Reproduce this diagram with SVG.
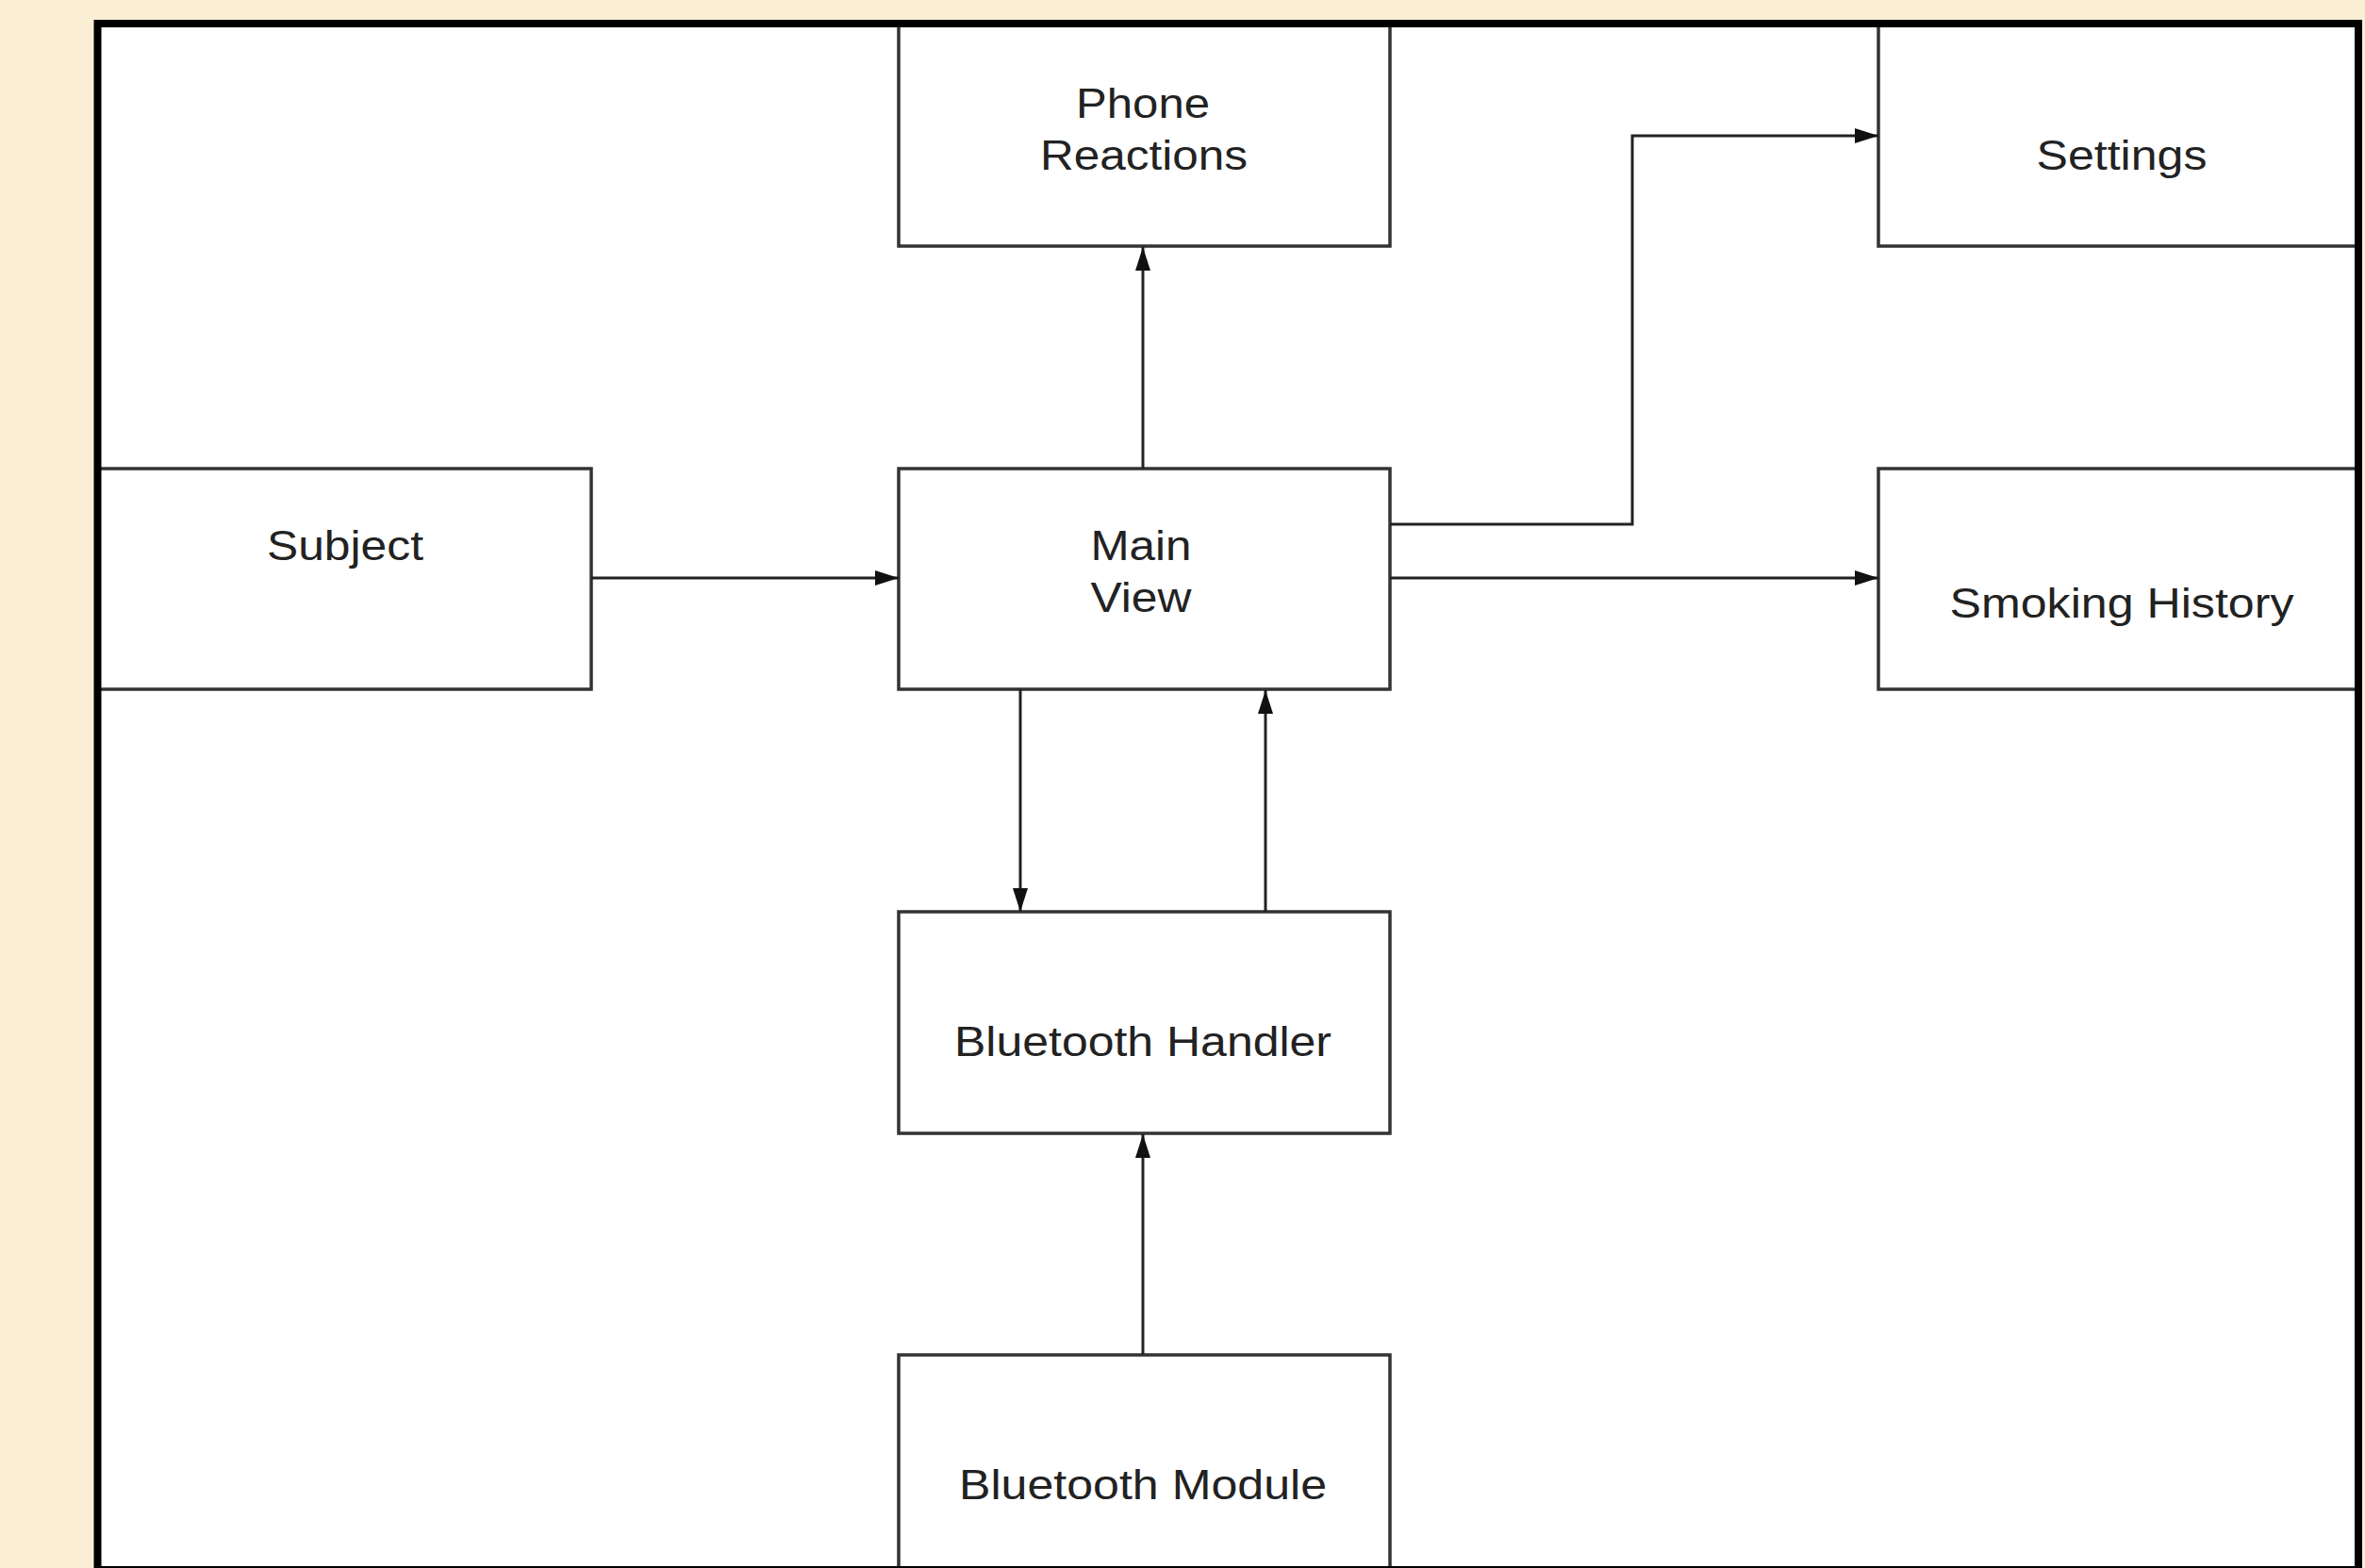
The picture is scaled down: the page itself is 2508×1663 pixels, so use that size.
<svg xmlns="http://www.w3.org/2000/svg" width="2508" height="1663" viewBox="0 0 2508 1663">
<style>
.box{fill:#ffffff;stroke:#333333;stroke-width:3.5}
.lbl{font-family:"Liberation Sans",Arial,sans-serif;font-size:45px;fill:#222222;text-anchor:middle}
.conn{fill:none;stroke:#222222;stroke-width:3}
</style>
<defs>
<marker id="arr" markerUnits="userSpaceOnUse" markerWidth="25" markerHeight="16" refX="25" refY="8" orient="auto">
<path d="M0,0 L25,8 L0,16 Z" fill="#111111"/>
</marker>
<clipPath id="inner">
<rect x="104" y="26" width="2396" height="1640"/>
</clipPath>
</defs>
<rect x="0" y="0" width="2508" height="1663" fill="#FAEFD4"/>
<rect id="frame-fill" x="103.5" y="25" width="2397.5" height="1640" fill="#ffffff"/>
<g clip-path="url(#inner)">
<g id="node-phone-reactions">
<rect class="box" x="953" y="10" width="521" height="251"/>
<text class="lbl" x="1212" y="125" textLength="142" lengthAdjust="spacingAndGlyphs">Phone</text>
<text class="lbl" x="1213" y="180" textLength="220" lengthAdjust="spacingAndGlyphs">Reactions</text>
</g>
<g id="node-settings">
<rect class="box" x="1992" y="10" width="530" height="251"/>
<text class="lbl" x="2250" y="180" textLength="181" lengthAdjust="spacingAndGlyphs">Settings</text>
</g>
<g id="node-subject">
<rect class="box" x="90" y="497" width="537" height="234"/>
<text class="lbl" x="366" y="594" textLength="166" lengthAdjust="spacingAndGlyphs">Subject</text>
</g>
<g id="node-main-view">
<rect class="box" x="953" y="497" width="521" height="234"/>
<text class="lbl" x="1210" y="594" textLength="107" lengthAdjust="spacingAndGlyphs">Main</text>
<text class="lbl" x="1210" y="649" textLength="107" lengthAdjust="spacingAndGlyphs">View</text>
</g>
<g id="node-smoking-history">
<rect class="box" x="1992" y="497" width="530" height="234"/>
<text class="lbl" x="2250" y="655" textLength="365" lengthAdjust="spacingAndGlyphs">Smoking History</text>
</g>
<g id="node-bluetooth-handler">
<rect class="box" x="953" y="967" width="521" height="235"/>
<text class="lbl" x="1212" y="1120" textLength="400" lengthAdjust="spacingAndGlyphs">Bluetooth Handler</text>
</g>
<g id="node-bluetooth-module">
<rect class="box" x="953" y="1437" width="521" height="260"/>
<text class="lbl" x="1212" y="1590" textLength="390" lengthAdjust="spacingAndGlyphs">Bluetooth Module</text>
</g>
</g>
<g id="connectors">
<path class="conn" d="M627,613 H953" marker-end="url(#arr)"/>
<path class="conn" d="M1212,497 V262" marker-end="url(#arr)"/>
<path class="conn" d="M1474,556 H1731 V144 H1992" marker-end="url(#arr)"/>
<path class="conn" d="M1474,613 H1992" marker-end="url(#arr)"/>
<path class="conn" d="M1082,731 V967" marker-end="url(#arr)"/>
<path class="conn" d="M1342,967 V732" marker-end="url(#arr)"/>
<path class="conn" d="M1212,1437 V1203" marker-end="url(#arr)"/>
</g>
<rect id="frame" x="103.5" y="25" width="2397.5" height="1640" fill="none" stroke="#000000" stroke-width="8"/>
</svg>
